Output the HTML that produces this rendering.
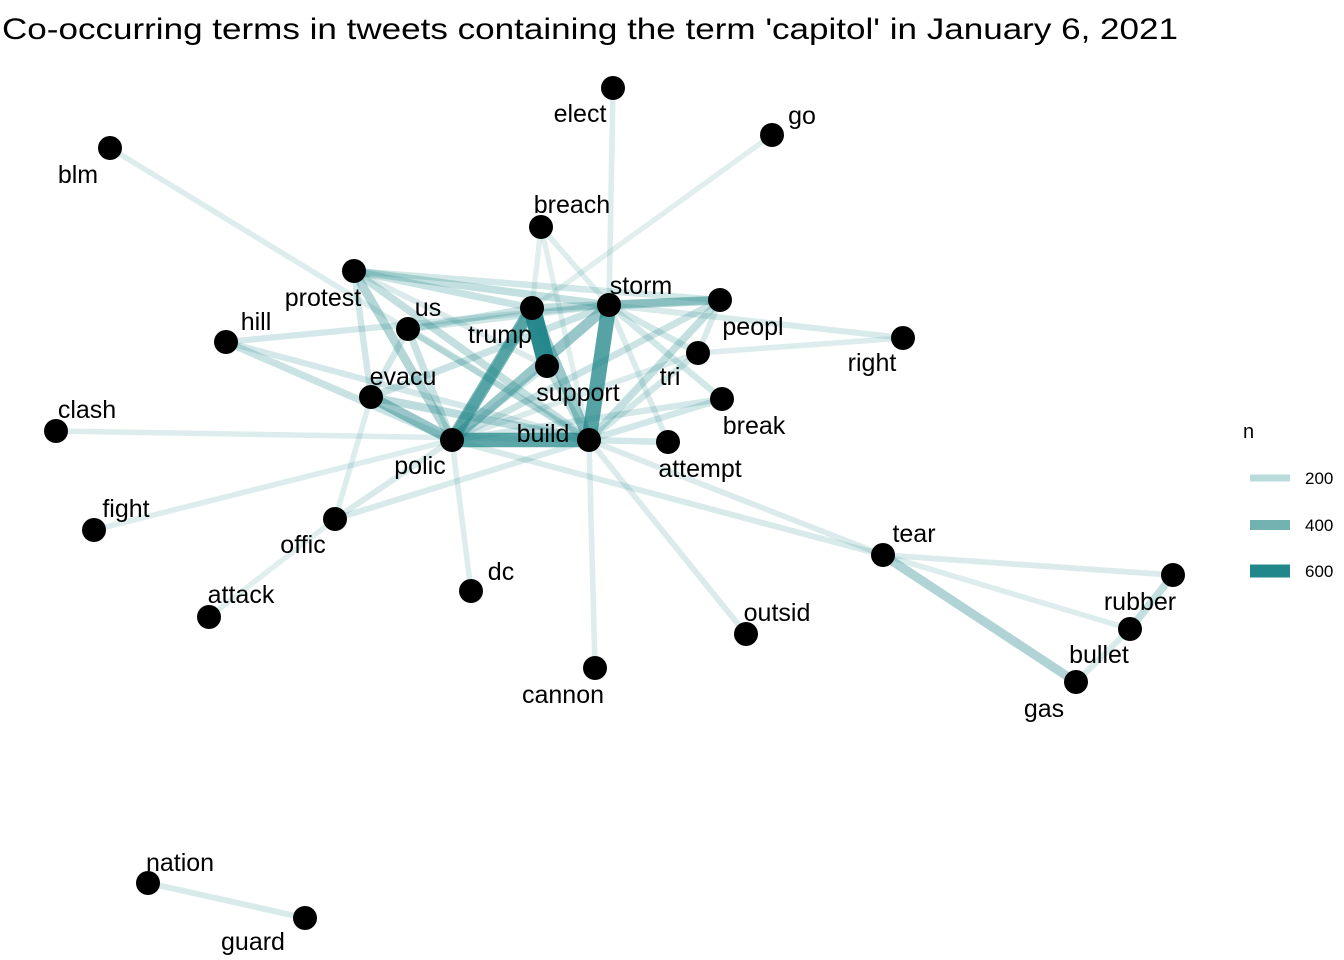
<!DOCTYPE html>
<html><head><meta charset="utf-8">
<style>
html,body{margin:0;padding:0;background:#fff;}
svg{display:block;font-family:"Liberation Sans",Arial,sans-serif;}
</style></head>
<body>
<svg id="chart" width="1344" height="960">
<text x="2" y="39" font-size="30" textLength="1176" lengthAdjust="spacingAndGlyphs" fill="#000">Co-occurring terms in tweets containing the term 'capitol' in January 6, 2021</text>
<g id="edges"></g>
<g id="nodes"></g>
<g id="labels"></g>
<g id="legend">
<text x="1243" y="438" font-size="20">n</text>
</g>
</svg>
<script>
const nodeNames = ["elect","go","blm","breach","protest","storm","trump","peopl","us","hill","right","support","tri","evacu","break","clash","polic","build","attempt","fight","offic","tear","rubber","dc","attack","outsid","cannon","bullet","gas","nation","guard"];
const nodeX = [613,772,110,541,354,609,532,720,408,226,903,547,698,371,722,56,452,589,668,94,335,883,1173,471,209,746,595,1130,1076,148,305];
const nodeY = [88,135,148,227,271,305,308,300,329,342,338,366,353,397,399,431,440,440,442,530,519,555,575,591,617,634,668,629,682,883,918];
const labelX = [580,802,78,572,323,641,500,753,428,256,872,578,670,403,754,87,420,543,700,126,303,914,1140,501,241,777,563,1099,1044,180,253];
const labelY = [114,116,175,205,298,286,335,327,308,322,363,393,377,377,426,410,466,434,469,509,545,534,602,572,595,613,695,655,709,863,942];
const edgeFrom = ["elect","go","blm","breach","breach","breach","protest","protest","protest","protest","protest","protest","protest","hill","hill","hill","clash","fight","offic","offic","offic","attack","dc","cannon","outsid","right","right","tear","tear","tear","tear","tear","rubber","bullet","nation","us","us","us","us","peopl","peopl","peopl","peopl","tri","tri","tri","break","break","break","attempt","attempt","support","support","trump","storm","polic","trump","storm","polic","evacu","evacu","evacu","peopl","us","trump"];
const edgeTo   = ["storm","trump","build","storm","trump","build","storm","trump","peopl","polic","build","evacu","support","storm","polic","build","build","polic","polic","build","evacu","offic","polic","build","build","storm","tri","polic","build","rubber","bullet","gas","bullet","gas","guard","storm","trump","polic","build","storm","trump","build","polic","storm","build","polic","storm","build","polic","build","storm","build","polic","support","build","build","polic","polic","trump","polic","build","storm","tri","evacu","build"];
const edgeN    = [110,100,110,110,100,100,200,180,150,250,200,150,120,140,180,140,110,110,130,130,110,100,110,110,120,130,110,130,120,120,110,260,200,130,130,150,170,180,170,260,200,200,170,150,150,120,150,150,140,150,120,200,140,640,520,500,420,330,300,330,220,180,130,150,320];

const ns = "http://www.w3.org/2000/svg";
const idx = n => nodeNames.indexOf(n);
const eG = document.getElementById('edges');
edgeFrom.forEach((f,i)=>{
  const a=idx(f), b=idx(edgeTo[i]), n=edgeN[i];
  const l=document.createElementNS(ns,'line');
  l.setAttribute('x1',nodeX[a]);l.setAttribute('y1',nodeY[a]);
  l.setAttribute('x2',nodeX[b]);l.setAttribute('y2',nodeY[b]);
  l.setAttribute('stroke','rgb(34,135,138)');
  l.setAttribute('stroke-opacity',Math.min(1,0.04+Math.pow(n/650,1.2)*0.95));
  l.setAttribute('stroke-width',3+n/650*15);
  
  
  eG.appendChild(l);
});
const nG=document.getElementById('nodes'), tG=document.getElementById('labels');
nodeNames.forEach((nm,i)=>{
  const c=document.createElementNS(ns,'circle');
  c.setAttribute('cx',nodeX[i]);c.setAttribute('cy',nodeY[i]);c.setAttribute('r',12);c.setAttribute('fill','#000');
  
  
  nG.appendChild(c);
  const t=document.createElementNS(ns,'text');
  t.setAttribute('x',labelX[i]);t.setAttribute('y',labelY[i]);
  t.setAttribute('text-anchor','middle');t.setAttribute('dominant-baseline','central');
  t.setAttribute('font-size','25');t.textContent=nm;
  
  
  tG.appendChild(t);
});
const legVals=[200,400,600], legY=[478,525,571], legCol=['#b9dcdb','#72b2b1','#22878a'], legH=[7,10,13];
const lG=document.getElementById('legend');
legVals.forEach((v,i)=>{
  const r=document.createElementNS(ns,'rect');
  r.setAttribute('x',1250);r.setAttribute('y',legY[i]-legH[i]/2);r.setAttribute('width',40);r.setAttribute('height',legH[i]);
  r.setAttribute('fill',legCol[i]);
  
  
  lG.appendChild(r);
  const t=document.createElementNS(ns,'text');
  t.setAttribute('x',1305);t.setAttribute('y',legY[i]+6);t.setAttribute('font-size','17');t.textContent=v;
  
  
  lG.appendChild(t);
});
</script>
</body></html>
